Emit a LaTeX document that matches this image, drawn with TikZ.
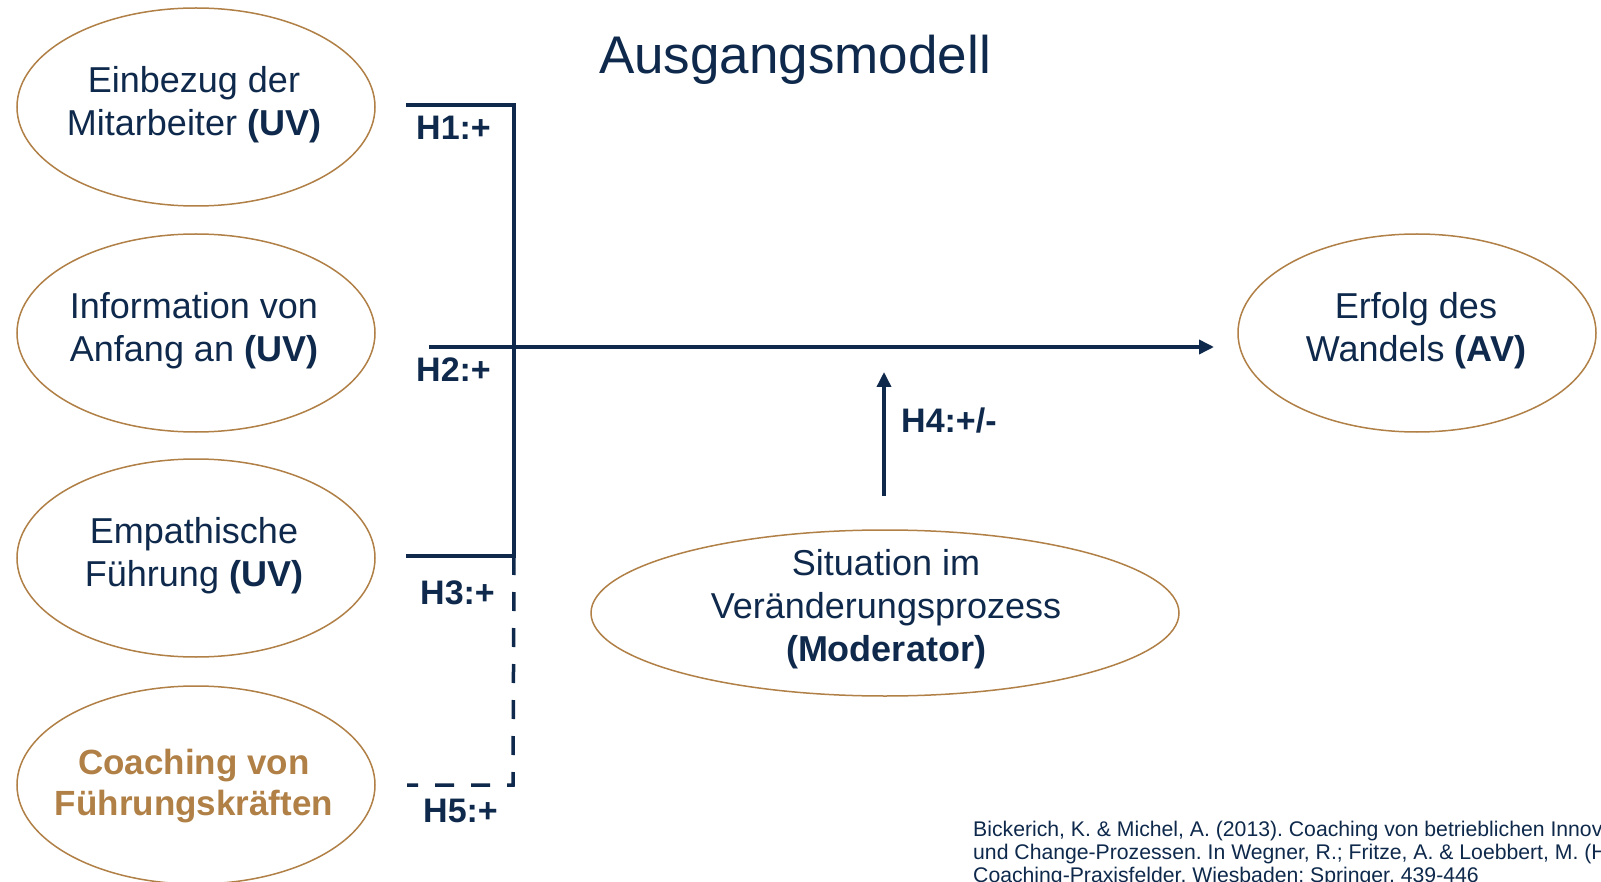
\documentclass[tikz,border=0pt]{standalone}
\usepackage{fontspec}
\setmainfont{Liberation Sans}
\usetikzlibrary{shapes.geometric,arrows.meta}
\definecolor{navy}{RGB}{14,41,75}
\definecolor{gold}{RGB}{176,128,70}
\frenchspacing
\begin{document}
\begin{tikzpicture}[x=1pt,y=-1pt,
  oval/.style={draw=gold,line width=1.5pt,ellipse,inner sep=0pt},
  leftoval/.style={oval,minimum width=358pt,minimum height=198pt},
  txt/.style={text=navy,align=center,font=\fontsize{36}{43}\selectfont,inner sep=0pt},
  goldtxt/.style={text=gold,align=center,font=\fontsize{35}{41}\selectfont\bfseries,inner sep=0pt},
  hyp/.style={text=navy,font=\fontsize{34}{40}\selectfont\bfseries,anchor=west,inner sep=0pt},
  conn/.style={draw=navy,line width=3.5pt},
  dsh/.style={conn,dash pattern=on 19pt off 17pt},
  tip/.style={-{Triangle[length=15pt,width=14pt]}}
]
\useasboundingbox (0,0) rectangle (1601,882);
\clip (0,0) rectangle (1601,882);
\fill[white] (0,0) rectangle (1601,882);

% title
\node[text=navy,font=\fontsize{53}{60}\selectfont,anchor=base,inner sep=0pt] (title) at (795,74) {Ausgangsmodell};

% ellipses
\node[leftoval] (e1) at (196,107) {};
\node[leftoval] (e2) at (196,333) {};
\node[leftoval] (e3) at (196,558) {};
\node[leftoval] (e4) at (196,785) {};
\node[oval,minimum width=358pt,minimum height=198pt] (av) at (1417,333) {};
\node[oval,minimum width=588pt,minimum height=166pt] (mod) at (885,613) {};

% ellipse texts
\node[txt] (t1) at (194,105) {Einbezug der\\Mitarbeiter \textbf{(UV)}};
\node[txt] (t2) at (194,331) {Information von\\Anfang an \textbf{(UV)}};
\node[txt] (t3) at (194,556) {Empathische\\Führung \textbf{(UV)}};
\node[goldtxt] (t4) at (194,786) {Coaching von\\Führungskräften};
\node[txt] (tav) at (1416,331) {Erfolg des\\Wandels \textbf{(AV)}};
\node[txt] (tmod) at (886,609) {Situation im\\Veränderungsprozess\\\textbf{(Moderator)}};

% connector coordinates
\coordinate (h1s) at (406,105);
\coordinate (h1c) at (514,105);
\coordinate (h3s) at (406,556);
\coordinate (h3c) at (514,556);
\coordinate (h2s) at (429,347);
\coordinate (h2e) at (1214,347);
\coordinate (h5s) at (407,785);
\coordinate (h5c) at (513,785);
\coordinate (h4s) at (884,496);
\coordinate (h4e) at (884,372);

\draw[conn] (h1s) -- (h1c) -- (h3c) -- (h3s);
\draw[conn,tip] (h2s) -- (h2e);
\draw[dsh] (h3c) -- (h5c) -- (h5s);
\draw[conn,tip] (h4s) -- (h4e);

% hypothesis labels
\node[hyp] (l1) at (416,128) {H1:+};
\node[hyp] (l2) at (416,370) {H2:+};
\node[hyp] (l3) at (420,593) {H3:+};
\node[hyp] (l5) at (423,811) {H5:+};
\node[hyp] (l4) at (901,421) {H4:+/-};

% citation
\node[text=navy,font=\fontsize{21.2}{23.3}\selectfont,align=left,anchor=base west,inner sep=0pt] (cite) at (973,882.6)
 {Bickerich, K. \& Michel, A. (2013). Coaching von betrieblichen Innovations-\\
  und Change-Prozessen. In Wegner, R.; Fritze, A. \& Loebbert, M. (Hrsg.),\\
  Coaching-Praxisfelder. Wiesbaden: Springer. 439-446};
\end{tikzpicture}
\end{document}
